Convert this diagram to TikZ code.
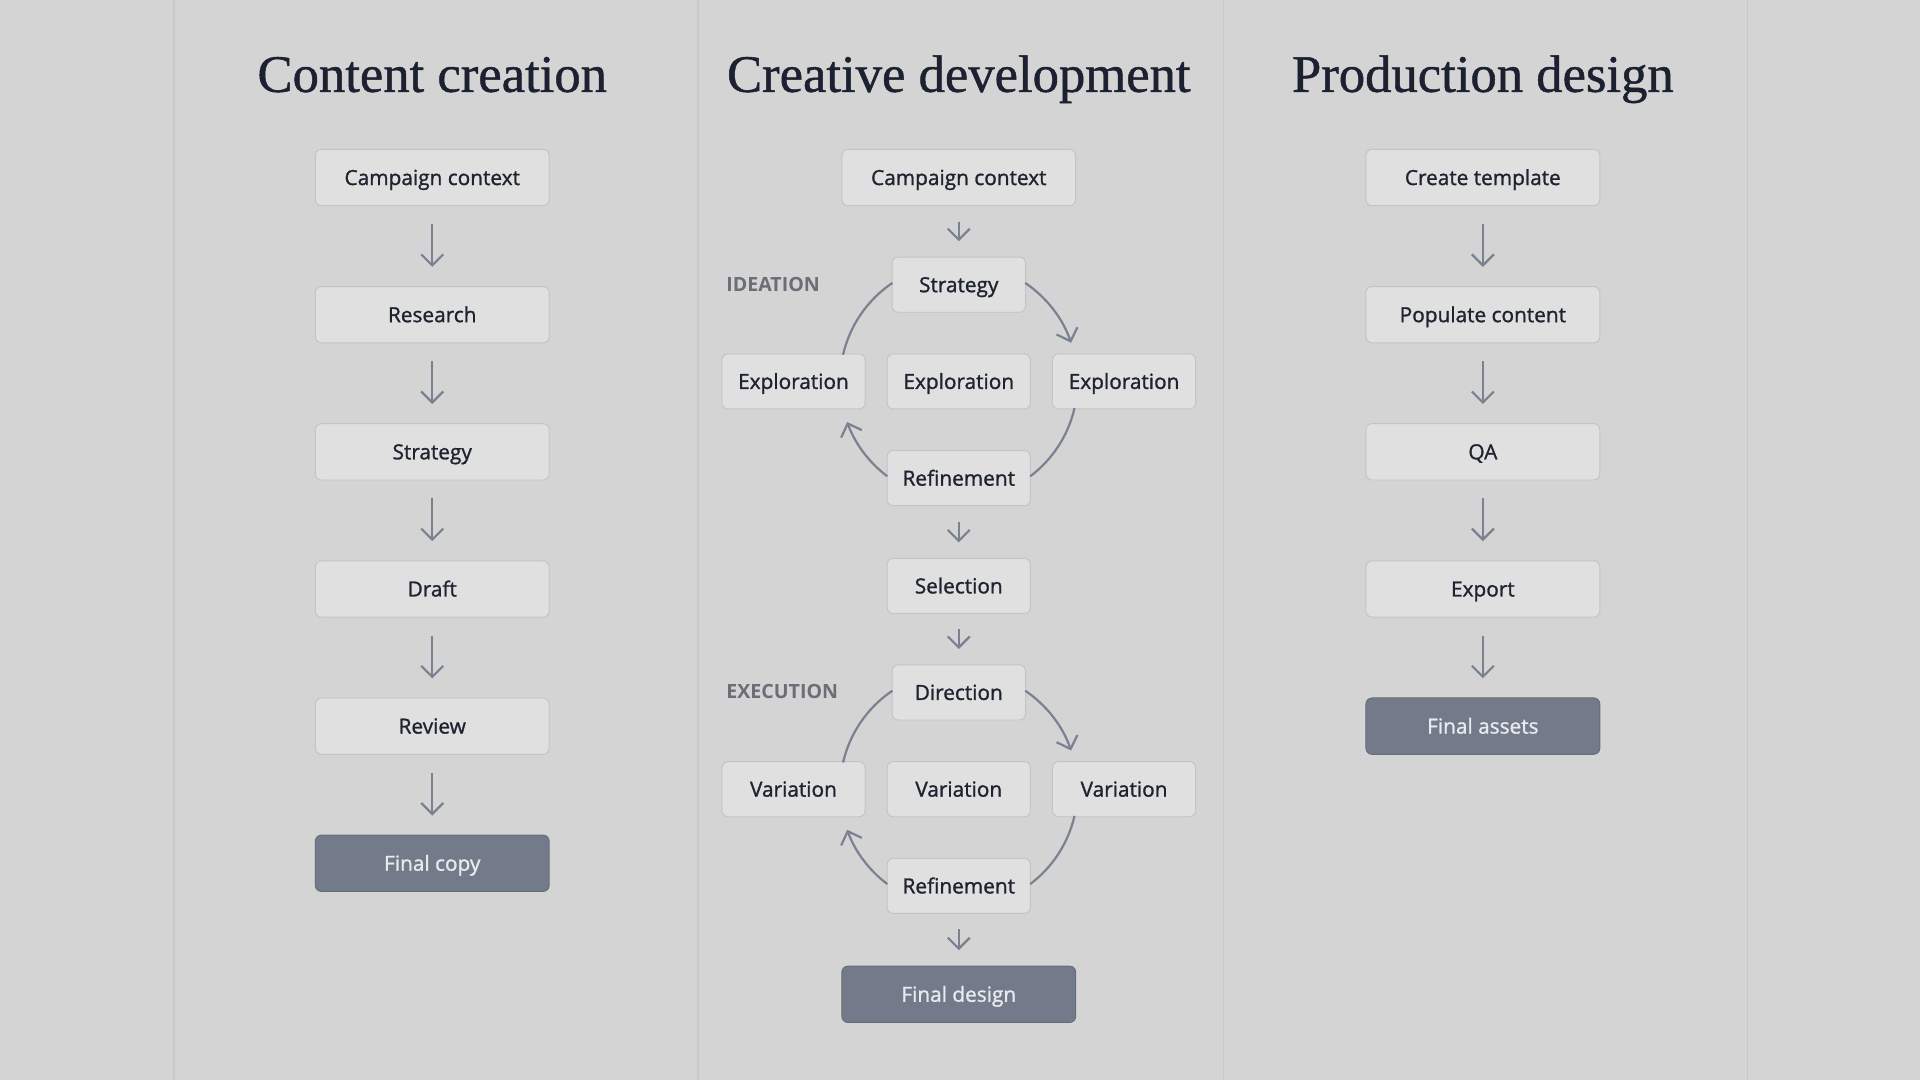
\documentclass[tikz,border=0pt]{standalone}
\usepackage{fontspec}
\setmainfont{Open Sans}
\newfontfamily\boxfont[RawFeature={embolden=1.2}]{Open Sans}
\newfontfamily\titlefont[RawFeature={embolden=0.9}]{Liberation Serif}
\usetikzlibrary{positioning,arrows.meta}
\definecolor{bgcol}{HTML}{D4D4D4}
\definecolor{sepline}{HTML}{C8C8C8}
\definecolor{boxfill}{HTML}{E0E0E0}
\definecolor{boxline}{HTML}{C4C4C4}
\definecolor{ink}{HTML}{1E2330}
\definecolor{titleink}{HTML}{1B2130}
\definecolor{arrowcol}{HTML}{7A8191}
\definecolor{finalfill}{HTML}{737B8B}
\definecolor{finalline}{HTML}{666D7A}
\definecolor{finaltext}{HTML}{E8EAEE}
\definecolor{phaseink}{HTML}{6B6E76}
\begin{document}
\begin{tikzpicture}[x=1pt,y=1pt,
	box/.style={draw=boxline,fill=boxfill,rounded corners=5pt,line width=0.8pt,outer sep=0pt,
	minimum width=191pt,minimum height=46pt,inner sep=0pt,text height=12.2pt,text depth=0pt,
	font=\boxfont\fontsize{17}{20}\selectfont,text=ink},
	small/.style={box,minimum width=117pt,minimum height=45pt},
	tiny/.style={box,minimum width=109pt,minimum height=45pt},
	final/.style={box,fill=finalfill,draw=finalline,text=finaltext},
	title/.style={font=\titlefont\fontsize{43}{48}\selectfont,text=titleink,anchor=base},
	phase/.style={font=\bfseries\fontsize{16}{18}\selectfont,text=phaseink,anchor=west,inner sep=0pt},
	arr/.style={draw=arrowcol,line width=1.8pt,-{Straight Barb[length=9pt,width=18pt]}},
	flow/.style={draw=arrowcol,line width=1.8pt},
	long/.style={arr,shorten <=15pt,shorten >=16pt},
	short/.style={arr,shorten <=13pt,shorten >=13pt},
	node distance=66pt]
\fill[bgcol] (0,0) rectangle (1568,-882);
\useasboundingbox (0,0) rectangle (1568,-882);
\foreach \x in {142,570,999,1427}
	\draw[sepline,line width=1.2pt] (\x,0) -- (\x,-882);

% content creation
\node[title] (t1) at (353,-75) {Content creation};
\node[box] (a1) at (353,-145) {Campaign context};
\node[box,below=of a1] (a2) {Research};
\node[box,below=of a2] (a3) {Strategy};
\node[box,below=of a3] (a4) {Draft};
\node[box,below=of a4] (a5) {Review};
\node[final,below=of a5] (a6) {Final copy};
\foreach \i/\j in {1/2,2/3,3/4,4/5,5/6}
	\draw[long] (a\i) -- (a\j);

% creative development
\node[title] (t2) at (783,-75) {Creative development};
\node[box] (b1) at (783,-145) {Campaign context};
\node[tiny,below=42pt of b1] (strat) {Strategy};
\node[small,below=34pt of strat] (ex2) {Exploration};
\node[small,left=18pt of ex2] (ex1) {Exploration};
\node[small,right=18pt of ex2] (ex3) {Exploration};
\node[small,below=34pt of ex2] (ref1) {Refinement};
\node[small,below=43pt of ref1] (sel) {Selection};
\node[tiny,below=42pt of sel] (dir) {Direction};
\node[small,below=34pt of dir] (va2) {Variation};
\node[small,left=18pt of va2] (va1) {Variation};
\node[small,right=18pt of va2] (va3) {Variation};
\node[small,below=34pt of va2] (ref2) {Refinement};
\node[final,below=43pt of ref2] (fin) {Final design};
\node[phase] (ideation) at (593,-232) {IDEATION};
\node[phase] (execution) at (593,-565) {EXECUTION};
\draw[short] (b1) -- (strat);
\draw[short] (ref1) -- (sel);
\draw[short] (sel) -- (dir);
\draw[short] (ref2) -- (fin);
\foreach \c in {ex2,va2}{
	\draw[flow] (\c) ++(124:97) arc[start angle=124,end angle=167,radius=97];
	\draw[arr] (\c) ++(56:97) arc[start angle=56,end angle=19,radius=97];
	\draw[flow] (\c) ++(-13:97) arc[start angle=-13,end angle=-53,radius=97];
	\draw[arr] (\c) ++(-127:97) arc[start angle=-127,end angle=-160,radius=97];
}

% production design
\node[title] (t3) at (1211,-75) {Production design};
\node[box] (c1) at (1211,-145) {Create template};
\node[box,below=of c1] (c2) {Populate content};
\node[box,below=of c2] (c3) {QA};
\node[box,below=of c3] (c4) {Export};
\node[final,below=of c4] (c5) {Final assets};
\foreach \i/\j in {1/2,2/3,3/4,4/5}
	\draw[long] (c\i) -- (c\j);
\end{tikzpicture}
\end{document}
